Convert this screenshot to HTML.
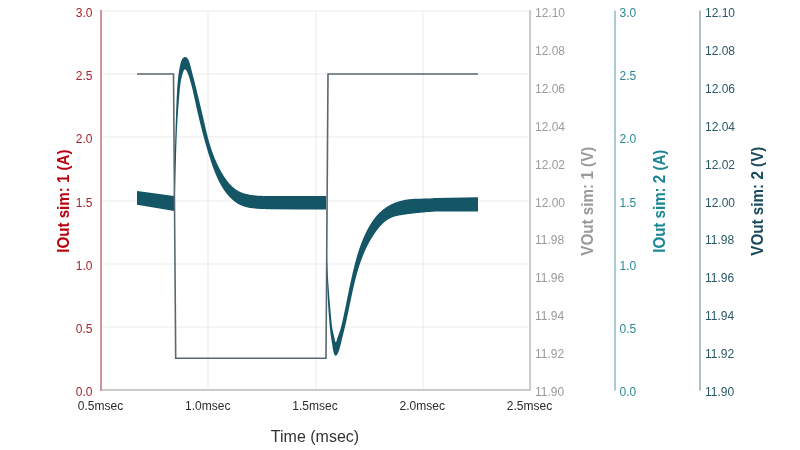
<!DOCTYPE html>
<html><head><meta charset="utf-8"><style>
html,body{margin:0;padding:0;background:#fff;width:800px;height:450px;overflow:hidden}
svg{display:block;will-change:transform}
text{font-family:"Liberation Sans",sans-serif}
</style></head><body>
<svg width="800" height="450" viewBox="0 0 800 450">
<rect width="800" height="450" fill="#fff"/>
<rect x="102" y="10" width="427" height="2" fill="rgba(0,0,0,0.04)"/>
<rect x="102" y="73" width="427" height="2" fill="rgba(0,0,0,0.04)"/>
<rect x="102" y="136" width="427" height="2" fill="rgba(0,0,0,0.04)"/>
<rect x="102" y="200" width="427" height="2" fill="rgba(0,0,0,0.04)"/>
<rect x="102" y="263" width="427" height="2" fill="rgba(0,0,0,0.04)"/>
<rect x="102" y="326" width="427" height="2" fill="rgba(0,0,0,0.04)"/>
<rect x="207" y="12" width="2" height="377" fill="rgba(0,0,0,0.04)"/>
<rect x="315" y="12" width="2" height="377" fill="rgba(0,0,0,0.04)"/>
<rect x="422" y="12" width="2" height="377" fill="rgba(0,0,0,0.04)"/>
<rect x="100" y="389" width="431" height="2" fill="#cbcbcb"/>
<rect x="529" y="10" width="2" height="381" fill="#cbcbcb"/>
<rect x="100" y="10" width="2" height="381" fill="#cf9699"/>
<rect x="614" y="10.5" width="2" height="380" fill="#a9cdd3"/>
<rect x="699" y="10.5" width="2" height="380" fill="#b1bfc4"/>
<path d="M137,191 L152,193 L173.78,196 L173.81,194.94 L173.84,193.88 L173.87,192.82 L173.9,191.76 L173.93,190.7 L173.96,189.64 L173.99,188.58 L174.02,187.52 L174.05,186.46 L174.08,185.4 L174.11,184.34 L174.13,183.28 L174.16,182.22 L174.19,181.16 L174.22,180.1 L174.24,179.04 L174.27,177.99 L174.3,176.93 L174.33,175.87 L174.35,174.81 L174.38,173.76 L174.41,172.7 L174.43,171.64 L174.46,170.59 L174.49,169.53 L174.51,168.47 L174.54,167.42 L174.56,166.36 L174.59,165.31 L174.62,164.25 L174.64,163.19 L174.67,162.14 L174.7,161.08 L174.72,160.03 L174.75,158.97 L174.77,157.92 L174.8,156.86 L174.83,155.81 L174.85,154.75 L174.88,153.7 L174.91,152.64 L174.93,151.59 L174.96,150.53 L174.99,149.48 L175.02,148.42 L175.04,147.37 L175.07,146.31 L175.1,145.26 L175.13,144.2 L175.16,143.15 L175.18,142.09 L175.21,141.04 L175.24,139.98 L175.27,138.93 L175.3,137.87 L175.33,136.82 L175.36,135.76 L175.39,134.71 L175.42,133.65 L175.45,132.59 L175.48,131.54 L175.52,130.48 L175.55,129.43 L175.58,128.37 L175.61,127.31 L175.65,126.26 L175.68,125.2 L175.71,124.15 L175.75,123.09 L175.78,122.03 L175.82,120.97 L175.85,119.92 L175.89,118.86 L175.93,117.8 L175.96,116.74 L176,115.69 L176.04,114.63 L176.08,113.57 L176.12,112.51 L176.16,111.45 L176.2,110.39 L176.24,109.33 L176.28,108.27 L176.32,107.21 L176.36,106.15 L176.41,105.09 L176.45,104.03 L176.5,102.97 L176.54,101.91 L176.59,100.84 L176.63,99.78 L176.68,98.72 L176.73,97.66 L176.78,96.59 L176.83,95.53 L176.88,94.47 L176.94,93.41 L176.99,92.35 L177.05,91.29 L177.11,90.23 L177.18,89.17 L177.25,88.11 L177.32,87.06 L177.39,86 L177.47,84.95 L177.55,83.9 L177.64,82.86 L177.73,81.81 L177.83,80.77 L177.93,79.73 L178.04,78.69 L178.15,77.66 L178.27,76.63 L178.4,75.6 L178.53,74.58 L178.67,73.56 L178.81,72.54 L178.96,71.53 L179.12,70.52 L179.29,69.5 L179.48,68.46 L179.68,67.4 L179.91,66.31 L180.15,65.17 L180.42,64 L180.72,62.8 L181.08,61.61 L181.49,60.47 L181.99,59.43 L182.58,58.52 L183.27,57.79 L184.02,57.28 L184.83,57.04 L185.64,57.11 L186.45,57.47 L187.2,58.08 L187.87,58.89 L188.45,59.85 L188.95,60.94 L189.37,62.1 L189.74,63.29 L190.07,64.47 L190.38,65.6 L190.66,66.68 L190.94,67.72 L191.2,68.73 L191.45,69.71 L191.7,70.68 L191.95,71.65 L192.2,72.64 L192.46,73.63 L192.71,74.64 L192.97,75.65 L193.23,76.68 L193.49,77.71 L193.76,78.74 L194.02,79.77 L194.28,80.81 L194.54,81.84 L194.8,82.87 L195.06,83.9 L195.31,84.93 L195.57,85.96 L195.83,86.99 L196.08,88.02 L196.34,89.05 L196.59,90.07 L196.84,91.1 L197.1,92.13 L197.35,93.16 L197.6,94.18 L197.85,95.21 L198.1,96.23 L198.35,97.26 L198.6,98.28 L198.84,99.31 L199.09,100.33 L199.34,101.36 L199.58,102.38 L199.83,103.41 L200.07,104.43 L200.32,105.46 L200.56,106.49 L200.8,107.51 L201.04,108.54 L201.29,109.57 L201.53,110.59 L201.77,111.62 L202.01,112.65 L202.25,113.68 L202.49,114.7 L202.73,115.73 L202.96,116.76 L203.2,117.8 L203.44,118.83 L203.68,119.86 L203.91,120.89 L204.15,121.93 L204.39,122.96 L204.63,123.99 L204.86,125.03 L205.1,126.06 L205.34,127.1 L205.58,128.13 L205.83,129.17 L206.07,130.2 L206.32,131.24 L206.57,132.27 L206.82,133.3 L207.08,134.33 L207.34,135.36 L207.6,136.39 L207.87,137.41 L208.14,138.44 L208.41,139.46 L208.69,140.48 L208.98,141.5 L209.27,142.52 L209.56,143.54 L209.86,144.55 L210.17,145.56 L210.48,146.56 L210.8,147.57 L211.12,148.57 L211.46,149.57 L211.8,150.56 L212.14,151.56 L212.49,152.55 L212.85,153.53 L213.22,154.52 L213.59,155.5 L213.98,156.48 L214.37,157.46 L214.76,158.43 L215.17,159.4 L215.58,160.36 L216,161.33 L216.43,162.29 L216.87,163.25 L217.32,164.2 L217.77,165.15 L218.24,166.1 L218.71,167.04 L219.19,167.99 L219.68,168.92 L220.19,169.86 L220.7,170.79 L221.22,171.72 L221.75,172.65 L222.29,173.57 L222.84,174.49 L223.4,175.4 L223.97,176.3 L224.56,177.2 L225.15,178.09 L225.76,178.97 L226.39,179.84 L227.02,180.69 L227.67,181.53 L228.34,182.36 L229.02,183.17 L229.71,183.96 L230.43,184.73 L231.16,185.48 L231.9,186.21 L232.67,186.92 L233.45,187.6 L234.25,188.26 L235.07,188.89 L235.91,189.5 L236.77,190.07 L237.65,190.62 L238.55,191.13 L239.47,191.61 L240.42,192.06 L241.38,192.48 L242.37,192.86 L243.37,193.21 L244.39,193.53 L245.42,193.83 L246.47,194.1 L247.52,194.34 L248.59,194.56 L249.66,194.76 L250.74,194.93 L251.83,195.09 L252.91,195.23 L254,195.35 L255.08,195.46 L256.17,195.55 L257.24,195.63 L258.32,195.7 L259.38,195.76 L260.44,195.81 L261.48,195.85 L262.51,195.89 L263.52,195.92 L264.52,195.95 L266,196 L300,196.1 L326,196.1 L326.6,240 L326.62,241.01 L326.63,242.01 L326.65,243.02 L326.67,244.02 L326.69,245.03 L326.72,246.03 L326.74,247.04 L326.76,248.04 L326.79,249.05 L326.82,250.06 L326.85,251.06 L326.88,252.07 L326.91,253.08 L326.94,254.08 L326.97,255.09 L327.01,256.1 L327.04,257.1 L327.08,258.11 L327.12,259.12 L327.16,260.13 L327.2,261.13 L327.24,262.14 L327.28,263.15 L327.32,264.16 L327.37,265.17 L327.42,266.17 L327.46,267.18 L327.51,268.19 L327.56,269.2 L327.61,270.21 L327.66,271.21 L327.71,272.22 L327.77,273.23 L327.82,274.24 L327.88,275.25 L327.93,276.25 L327.99,277.26 L328.05,278.27 L328.11,279.28 L328.17,280.28 L328.23,281.29 L328.3,282.3 L328.36,283.31 L328.43,284.31 L328.49,285.32 L328.56,286.33 L328.63,287.34 L328.7,288.34 L328.77,289.35 L328.84,290.36 L328.91,291.36 L328.98,292.37 L329.05,293.37 L329.13,294.38 L329.2,295.39 L329.28,296.39 L329.36,297.4 L329.44,298.4 L329.52,299.41 L329.6,300.41 L329.68,301.41 L329.76,302.42 L329.84,303.42 L329.92,304.43 L330.01,305.43 L330.09,306.43 L330.18,307.43 L330.27,308.44 L330.35,309.44 L330.44,310.44 L330.53,311.44 L330.62,312.44 L330.71,313.44 L330.81,314.44 L330.9,315.44 L330.99,316.44 L331.09,317.44 L331.18,318.44 L331.28,319.44 L331.37,320.44 L331.47,321.43 L331.57,322.43 L331.68,323.43 L331.79,324.42 L331.91,325.42 L332.04,326.41 L332.18,327.41 L332.33,328.4 L332.49,329.39 L332.67,330.38 L332.87,331.37 L333.08,332.36 L333.32,333.35 L333.56,334.36 L333.82,335.39 L334.08,336.45 L334.33,337.55 L334.59,338.69 L334.84,339.9 L335.08,341.05 L335.33,341.99 L336.18,341.89 L336.51,340.93 L336.86,339.77 L337.22,338.6 L337.59,337.48 L337.96,336.41 L338.33,335.39 L338.69,334.4 L339.05,333.44 L339.4,332.49 L339.73,331.54 L340.05,330.59 L340.35,329.64 L340.63,328.68 L340.9,327.72 L341.16,326.75 L341.41,325.78 L341.65,324.82 L341.88,323.84 L342.11,322.87 L342.33,321.9 L342.55,320.92 L342.76,319.94 L342.97,318.96 L343.18,317.98 L343.39,317 L343.6,316.02 L343.81,315.04 L344.02,314.06 L344.23,313.07 L344.43,312.09 L344.64,311.1 L344.84,310.12 L345.04,309.13 L345.25,308.14 L345.45,307.15 L345.65,306.16 L345.86,305.18 L346.06,304.19 L346.26,303.2 L346.46,302.21 L346.66,301.22 L346.86,300.23 L347.07,299.23 L347.27,298.24 L347.47,297.25 L347.67,296.26 L347.87,295.27 L348.08,294.28 L348.28,293.29 L348.49,292.3 L348.69,291.31 L348.9,290.32 L349.1,289.33 L349.31,288.33 L349.52,287.34 L349.72,286.36 L349.93,285.37 L350.14,284.38 L350.36,283.39 L350.57,282.4 L350.78,281.41 L351,280.43 L351.21,279.44 L351.43,278.46 L351.65,277.47 L351.87,276.49 L352.1,275.5 L352.32,274.52 L352.55,273.54 L352.78,272.56 L353.01,271.58 L353.24,270.6 L353.47,269.63 L353.71,268.65 L353.95,267.67 L354.19,266.7 L354.43,265.73 L354.68,264.76 L354.93,263.79 L355.18,262.82 L355.43,261.85 L355.69,260.88 L355.96,259.92 L356.22,258.95 L356.49,257.99 L356.77,257.03 L357.05,256.07 L357.33,255.11 L357.62,254.15 L357.91,253.2 L358.21,252.24 L358.51,251.29 L358.82,250.34 L359.14,249.39 L359.46,248.44 L359.78,247.5 L360.12,246.55 L360.45,245.61 L360.8,244.67 L361.15,243.73 L361.51,242.79 L361.87,241.85 L362.24,240.92 L362.62,239.99 L363.01,239.05 L363.4,238.13 L363.8,237.2 L364.21,236.27 L364.63,235.35 L365.06,234.43 L365.49,233.51 L365.93,232.59 L366.38,231.68 L366.85,230.76 L367.31,229.86 L367.79,228.95 L368.28,228.05 L368.78,227.16 L369.29,226.27 L369.81,225.39 L370.34,224.51 L370.88,223.65 L371.43,222.79 L371.99,221.94 L372.56,221.1 L373.15,220.26 L373.74,219.44 L374.35,218.63 L374.97,217.83 L375.6,217.04 L376.25,216.27 L376.9,215.51 L377.58,214.76 L378.26,214.02 L378.95,213.3 L379.66,212.6 L380.39,211.91 L381.13,211.24 L381.88,210.58 L382.64,209.94 L383.42,209.32 L384.22,208.72 L385.02,208.13 L385.84,207.57 L386.68,207.02 L387.52,206.48 L388.38,205.97 L389.24,205.47 L390.12,205 L391.01,204.53 L391.91,204.09 L392.82,203.67 L393.73,203.26 L394.66,202.87 L395.59,202.5 L396.53,202.15 L397.48,201.82 L398.44,201.5 L399.4,201.21 L400.37,200.93 L401.34,200.67 L402.32,200.42 L403.3,200.2 L404.29,200 L405.28,199.81 L406.27,199.64 L407.27,199.49 L408.27,199.36 L409.27,199.24 L410.27,199.14 L411.28,199.05 L412.29,198.97 L413.3,198.91 L414.31,198.85 L415.32,198.81 L416.34,198.77 L417.35,198.74 L418.37,198.71 L419.38,198.69 L420.4,198.67 L421.42,198.65 L422.43,198.64 L423.44,198.62 L424.46,198.6 L425.47,198.58 L426.48,198.56 L427.49,198.53 L428.5,198.5 L429.51,198.45 L430.51,198.4 L431.51,198.34 L432.51,198.27 L433.51,198.19 L434.5,198.1 L436,198 L478,197.2 L478,211.5 L436,211.5 L434.4,211.6 L433.33,211.66 L432.27,211.73 L431.21,211.81 L430.15,211.88 L429.1,211.96 L428.06,212.04 L427.01,212.12 L425.97,212.21 L424.94,212.29 L423.9,212.38 L422.87,212.48 L421.84,212.57 L420.81,212.67 L419.79,212.77 L418.76,212.88 L417.73,212.98 L416.7,213.09 L415.67,213.2 L414.64,213.32 L413.61,213.44 L412.58,213.56 L411.54,213.68 L410.5,213.81 L409.46,213.94 L408.42,214.08 L407.37,214.21 L406.31,214.35 L405.25,214.5 L404.19,214.65 L403.12,214.8 L402.06,214.97 L400.99,215.15 L399.93,215.34 L398.87,215.54 L397.82,215.77 L396.78,216.01 L395.75,216.27 L394.73,216.56 L393.72,216.87 L392.72,217.22 L391.74,217.59 L390.78,217.99 L389.84,218.43 L388.92,218.91 L388.03,219.42 L387.15,219.97 L386.3,220.55 L385.47,221.17 L384.66,221.82 L383.86,222.49 L383.09,223.19 L382.33,223.92 L381.6,224.67 L380.87,225.44 L380.17,226.23 L379.47,227.03 L378.8,227.85 L378.13,228.67 L377.48,229.51 L376.84,230.36 L376.21,231.21 L375.59,232.07 L374.98,232.93 L374.39,233.8 L373.8,234.67 L373.22,235.54 L372.65,236.43 L372.1,237.31 L371.55,238.21 L371.01,239.1 L370.48,240 L369.96,240.91 L369.45,241.82 L368.95,242.74 L368.46,243.65 L367.98,244.58 L367.5,245.51 L367.04,246.44 L366.58,247.37 L366.13,248.31 L365.69,249.26 L365.26,250.2 L364.83,251.15 L364.41,252.11 L364,253.07 L363.6,254.03 L363.2,254.99 L362.82,255.96 L362.43,256.93 L362.06,257.91 L361.69,258.88 L361.33,259.86 L360.98,260.85 L360.63,261.83 L360.28,262.82 L359.95,263.81 L359.62,264.81 L359.29,265.8 L358.97,266.8 L358.66,267.8 L358.35,268.81 L358.04,269.81 L357.74,270.82 L357.45,271.83 L357.16,272.84 L356.88,273.86 L356.6,274.87 L356.32,275.89 L356.05,276.91 L355.78,277.93 L355.52,278.95 L355.26,279.98 L355,281 L354.75,282.03 L354.5,283.05 L354.25,284.08 L354,285.11 L353.76,286.14 L353.53,287.17 L353.29,288.2 L353.06,289.24 L352.83,290.27 L352.6,291.3 L352.37,292.34 L352.15,293.37 L351.92,294.4 L351.7,295.44 L351.48,296.47 L351.26,297.51 L351.05,298.54 L350.83,299.58 L350.61,300.61 L350.4,301.65 L350.19,302.68 L349.97,303.71 L349.76,304.75 L349.55,305.78 L349.33,306.81 L349.12,307.84 L348.91,308.87 L348.69,309.9 L348.48,310.93 L348.26,311.96 L348.05,312.98 L347.83,314.01 L347.61,315.03 L347.4,316.05 L347.18,317.08 L346.95,318.09 L346.73,319.11 L346.51,320.13 L346.28,321.14 L346.05,322.15 L345.82,323.17 L345.59,324.18 L345.35,325.19 L345.12,326.19 L344.88,327.2 L344.64,328.21 L344.4,329.22 L344.16,330.23 L343.92,331.24 L343.67,332.25 L343.43,333.26 L343.18,334.27 L342.93,335.28 L342.68,336.3 L342.43,337.31 L342.18,338.33 L341.93,339.36 L341.68,340.38 L341.42,341.41 L341.17,342.44 L340.91,343.47 L340.66,344.51 L340.4,345.55 L340.14,346.6 L339.87,347.65 L339.57,348.71 L339.24,349.78 L338.86,350.87 L338.43,351.97 L337.94,353.09 L337.38,354.16 L336.8,355.04 L335.9,355.75 L335.05,355.41 L334.53,354.67 L334.07,353.66 L333.67,352.53 L333.35,351.37 L333.08,350.2 L332.86,349.05 L332.68,347.9 L332.52,346.76 L332.37,345.65 L332.22,344.57 L332.06,343.51 L331.89,342.48 L331.72,341.46 L331.55,340.45 L331.39,339.45 L331.23,338.44 L331.07,337.43 L330.92,336.42 L330.78,335.4 L330.65,334.38 L330.51,333.35 L330.39,332.32 L330.27,331.28 L330.15,330.24 L330.04,329.2 L329.94,328.15 L329.83,327.11 L329.74,326.06 L329.64,325.01 L329.55,323.96 L329.46,322.91 L329.37,321.85 L329.28,320.8 L329.2,319.75 L329.11,318.69 L329.03,317.64 L328.95,316.59 L328.87,315.54 L328.79,314.49 L328.72,313.44 L328.64,312.38 L328.57,311.33 L328.5,310.28 L328.43,309.23 L328.36,308.18 L328.29,307.13 L328.22,306.08 L328.16,305.04 L328.09,303.99 L328.03,302.94 L327.97,301.89 L327.91,300.84 L327.85,299.79 L327.79,298.74 L327.73,297.7 L327.68,296.65 L327.62,295.6 L327.57,294.55 L327.52,293.5 L327.47,292.46 L327.42,291.41 L327.37,290.36 L327.32,289.31 L327.28,288.27 L327.23,287.22 L327.19,286.17 L327.15,285.13 L327.11,284.08 L327.07,283.03 L327.03,281.98 L326.99,280.94 L326.95,279.89 L326.92,278.84 L326.88,277.8 L326.85,276.75 L326.82,275.7 L326.78,274.65 L326.75,273.61 L326.72,272.56 L326.7,271.51 L326.67,270.46 L326.64,269.42 L326.62,268.37 L326.59,267.32 L326.57,266.27 L326.55,265.22 L326.53,264.18 L326.51,263.13 L326.49,262.08 L326.47,261.03 L326.45,259.98 L326.44,258.93 L326.42,257.88 L326.41,256.83 L326.39,255.78 L326.38,254.73 L326.37,253.68 L326.36,252.63 L326.35,251.58 L326.34,250.53 L326.33,249.48 L326.32,248.42 L326.32,247.37 L326.31,246.32 L326.31,245.27 L326.3,244.21 L326.3,243.16 L326.3,242.11 L326.29,241.05 L326.29,240 L326,209.4 L300,209.4 L270,209.3 L268.45,209.24 L267.43,209.2 L266.39,209.16 L265.33,209.12 L264.27,209.08 L263.19,209.04 L262.11,208.99 L261.02,208.95 L259.92,208.9 L258.82,208.84 L257.72,208.77 L256.61,208.69 L255.5,208.6 L254.4,208.49 L253.29,208.37 L252.19,208.24 L251.1,208.08 L250.01,207.9 L248.92,207.71 L247.85,207.49 L246.79,207.24 L245.74,206.97 L244.7,206.67 L243.68,206.34 L242.67,205.98 L241.68,205.59 L240.71,205.16 L239.75,204.7 L238.82,204.21 L237.9,203.69 L237,203.14 L236.11,202.56 L235.25,201.95 L234.4,201.32 L233.57,200.66 L232.75,199.98 L231.95,199.28 L231.17,198.55 L230.4,197.8 L229.65,197.03 L228.92,196.25 L228.2,195.44 L227.5,194.62 L226.81,193.78 L226.14,192.93 L225.48,192.07 L224.84,191.19 L224.21,190.3 L223.6,189.4 L223.01,188.48 L222.42,187.57 L221.86,186.64 L221.3,185.7 L220.76,184.76 L220.24,183.82 L219.72,182.86 L219.22,181.91 L218.73,180.94 L218.25,179.97 L217.79,179 L217.33,178.02 L216.88,177.03 L216.45,176.04 L216.02,175.05 L215.6,174.05 L215.2,173.05 L214.8,172.05 L214.4,171.04 L214.02,170.04 L213.64,169.02 L213.27,168.01 L212.9,167 L212.54,165.98 L212.19,164.96 L211.84,163.94 L211.5,162.92 L211.16,161.9 L210.82,160.88 L210.49,159.86 L210.16,158.84 L209.83,157.82 L209.5,156.8 L209.18,155.78 L208.86,154.76 L208.54,153.74 L208.23,152.71 L207.92,151.69 L207.61,150.67 L207.3,149.64 L207,148.62 L206.69,147.59 L206.39,146.57 L206.09,145.54 L205.8,144.51 L205.5,143.47 L205.21,142.44 L204.92,141.4 L204.63,140.36 L204.34,139.32 L204.06,138.28 L203.77,137.24 L203.49,136.19 L203.21,135.14 L202.93,134.09 L202.66,133.03 L202.38,131.97 L202.11,130.92 L201.83,129.86 L201.56,128.8 L201.29,127.74 L201.03,126.67 L200.76,125.61 L200.5,124.55 L200.23,123.49 L199.97,122.43 L199.72,121.36 L199.46,120.3 L199.2,119.24 L198.95,118.18 L198.7,117.13 L198.45,116.07 L198.2,115.02 L197.96,113.97 L197.72,112.92 L197.48,111.87 L197.24,110.83 L197,109.78 L196.76,108.75 L196.53,107.71 L196.3,106.68 L196.07,105.65 L195.85,104.63 L195.62,103.61 L195.4,102.6 L195.18,101.59 L194.96,100.59 L194.75,99.59 L194.54,98.59 L194.32,97.6 L194.11,96.61 L193.9,95.62 L193.68,94.63 L193.46,93.64 L193.24,92.64 L193.01,91.63 L192.78,90.62 L192.54,89.6 L192.29,88.56 L192.03,87.52 L191.76,86.46 L191.49,85.38 L191.2,84.29 L190.89,83.18 L190.58,82.05 L190.25,80.9 L189.9,79.73 L189.54,78.53 L189.16,77.32 L188.75,76.1 L188.32,74.87 L187.86,73.65 L187.37,72.45 L186.87,71.34 L186.34,70.41 L185.82,69.72 L185.03,69.33 L184.28,69.84 L183.8,70.6 L183.35,71.6 L182.93,72.75 L182.53,73.98 L182.18,75.2 L181.86,76.39 L181.57,77.57 L181.31,78.72 L181.08,79.85 L180.87,80.97 L180.68,82.07 L180.52,83.16 L180.37,84.23 L180.24,85.3 L180.12,86.36 L180,87.42 L179.9,88.47 L179.8,89.52 L179.7,90.57 L179.61,91.63 L179.51,92.68 L179.42,93.74 L179.32,94.8 L179.23,95.86 L179.14,96.92 L179.05,97.99 L178.96,99.05 L178.87,100.12 L178.79,101.19 L178.7,102.26 L178.62,103.33 L178.53,104.4 L178.45,105.47 L178.37,106.54 L178.29,107.61 L178.21,108.69 L178.13,109.76 L178.06,110.84 L177.98,111.92 L177.91,112.99 L177.84,114.07 L177.77,115.15 L177.7,116.23 L177.63,117.3 L177.56,118.38 L177.5,119.46 L177.44,120.54 L177.38,121.61 L177.32,122.69 L177.26,123.77 L177.2,124.85 L177.14,125.93 L177.09,127 L177.04,128.08 L176.99,129.16 L176.93,130.24 L176.89,131.31 L176.84,132.39 L176.79,133.47 L176.75,134.54 L176.7,135.62 L176.66,136.7 L176.61,137.78 L176.57,138.85 L176.53,139.93 L176.49,141.01 L176.45,142.08 L176.42,143.16 L176.38,144.24 L176.34,145.31 L176.31,146.39 L176.27,147.47 L176.24,148.54 L176.2,149.62 L176.17,150.7 L176.14,151.77 L176.11,152.85 L176.08,153.93 L176.05,155 L176.02,156.08 L175.99,157.16 L175.96,158.23 L175.93,159.31 L175.9,160.38 L175.87,161.46 L175.84,162.54 L175.81,163.61 L175.79,164.69 L175.76,165.77 L175.73,166.84 L175.7,167.92 L175.68,169 L175.65,170.07 L175.62,171.15 L175.6,172.23 L175.57,173.3 L175.54,174.38 L175.51,175.45 L175.48,176.53 L175.46,177.61 L175.43,178.68 L175.4,179.76 L175.37,180.84 L175.34,181.91 L175.31,182.99 L175.28,184.07 L175.25,185.14 L175.22,186.22 L175.19,187.3 L175.16,188.38 L175.13,189.45 L175.09,190.53 L175.06,191.61 L175.02,192.68 L174.99,193.76 L174.95,194.84 L174.92,195.91 L174.88,196.99 L174.84,198.07 L174.8,199.15 L174.76,200.22 L174.72,201.3 L174.68,202.38 L174.63,203.46 L174.59,204.53 L174.55,205.61 L174.5,206.69 L174.45,207.77 L174.4,208.85 L174.35,209.92 L174.3,211 L152,207.3 L137,204.7 Z" fill="#145566"/>
<path d="M137,74 H173.5 L175.7,358.2 H326 L328,74 H478" fill="none" stroke="#5a6870" stroke-width="1.6"/>
<text x="92.5" y="17" text-anchor="end" fill="#a8232b" font-size="12">3.0</text>
<text x="92.5" y="80" text-anchor="end" fill="#a8232b" font-size="12">2.5</text>
<text x="92.5" y="143" text-anchor="end" fill="#a8232b" font-size="12">2.0</text>
<text x="92.5" y="207" text-anchor="end" fill="#a8232b" font-size="12">1.5</text>
<text x="92.5" y="270" text-anchor="end" fill="#a8232b" font-size="12">1.0</text>
<text x="92.5" y="333" text-anchor="end" fill="#a8232b" font-size="12">0.5</text>
<text x="92.5" y="396" text-anchor="end" fill="#a8232b" font-size="12">0.0</text>
<text x="535" y="17" fill="#9b9b9b" font-size="12">12.10</text>
<text x="705" y="17" fill="#2b5866" font-size="12">12.10</text>
<text x="535" y="55" fill="#9b9b9b" font-size="12">12.08</text>
<text x="705" y="55" fill="#2b5866" font-size="12">12.08</text>
<text x="535" y="93" fill="#9b9b9b" font-size="12">12.06</text>
<text x="705" y="93" fill="#2b5866" font-size="12">12.06</text>
<text x="535" y="131" fill="#9b9b9b" font-size="12">12.04</text>
<text x="705" y="131" fill="#2b5866" font-size="12">12.04</text>
<text x="535" y="169" fill="#9b9b9b" font-size="12">12.02</text>
<text x="705" y="169" fill="#2b5866" font-size="12">12.02</text>
<text x="535" y="207" fill="#9b9b9b" font-size="12">12.00</text>
<text x="705" y="207" fill="#2b5866" font-size="12">12.00</text>
<text x="535" y="244" fill="#9b9b9b" font-size="12">11.98</text>
<text x="705" y="244" fill="#2b5866" font-size="12">11.98</text>
<text x="535" y="282" fill="#9b9b9b" font-size="12">11.96</text>
<text x="705" y="282" fill="#2b5866" font-size="12">11.96</text>
<text x="535" y="320" fill="#9b9b9b" font-size="12">11.94</text>
<text x="705" y="320" fill="#2b5866" font-size="12">11.94</text>
<text x="535" y="358" fill="#9b9b9b" font-size="12">11.92</text>
<text x="705" y="358" fill="#2b5866" font-size="12">11.92</text>
<text x="535" y="396" fill="#9b9b9b" font-size="12">11.90</text>
<text x="705" y="396" fill="#2b5866" font-size="12">11.90</text>
<text x="619.5" y="17" fill="#2a8894" font-size="12">3.0</text>
<text x="619.5" y="80" fill="#2a8894" font-size="12">2.5</text>
<text x="619.5" y="143" fill="#2a8894" font-size="12">2.0</text>
<text x="619.5" y="207" fill="#2a8894" font-size="12">1.5</text>
<text x="619.5" y="270" fill="#2a8894" font-size="12">1.0</text>
<text x="619.5" y="333" fill="#2a8894" font-size="12">0.5</text>
<text x="619.5" y="396" fill="#2a8894" font-size="12">0.0</text>
<text x="100.5" y="409.5" text-anchor="middle" fill="#2b2b2b" font-size="12">0.5msec</text>
<text x="207.75" y="409.5" text-anchor="middle" fill="#2b2b2b" font-size="12">1.0msec</text>
<text x="315" y="409.5" text-anchor="middle" fill="#2b2b2b" font-size="12">1.5msec</text>
<text x="422.25" y="409.5" text-anchor="middle" fill="#2b2b2b" font-size="12">2.0msec</text>
<text x="529.5" y="409.5" text-anchor="middle" fill="#2b2b2b" font-size="12">2.5msec</text>
<text x="315" y="441.5" text-anchor="middle" fill="#333333" font-size="16">Time (msec)</text>
<text transform="translate(69,201.1) rotate(-90) scale(0.945,1)" text-anchor="middle" fill="#b8000f" font-size="16" font-weight="bold">IOut sim: 1 (A)</text>
<text transform="translate(593.3,201.2) rotate(-90) scale(0.953,1)" text-anchor="middle" fill="#9a9a9a" font-size="16" font-weight="bold">VOut sim: 1 (V)</text>
<text transform="translate(664.5,201.2) rotate(-90) scale(0.945,1)" text-anchor="middle" fill="#1a8594" font-size="16" font-weight="bold">IOut sim: 2 (A)</text>
<text transform="translate(763.3,201.2) rotate(-90) scale(0.953,1)" text-anchor="middle" fill="#1b4a5c" font-size="16" font-weight="bold">VOut sim: 2 (V)</text>
</svg>
</body></html>
